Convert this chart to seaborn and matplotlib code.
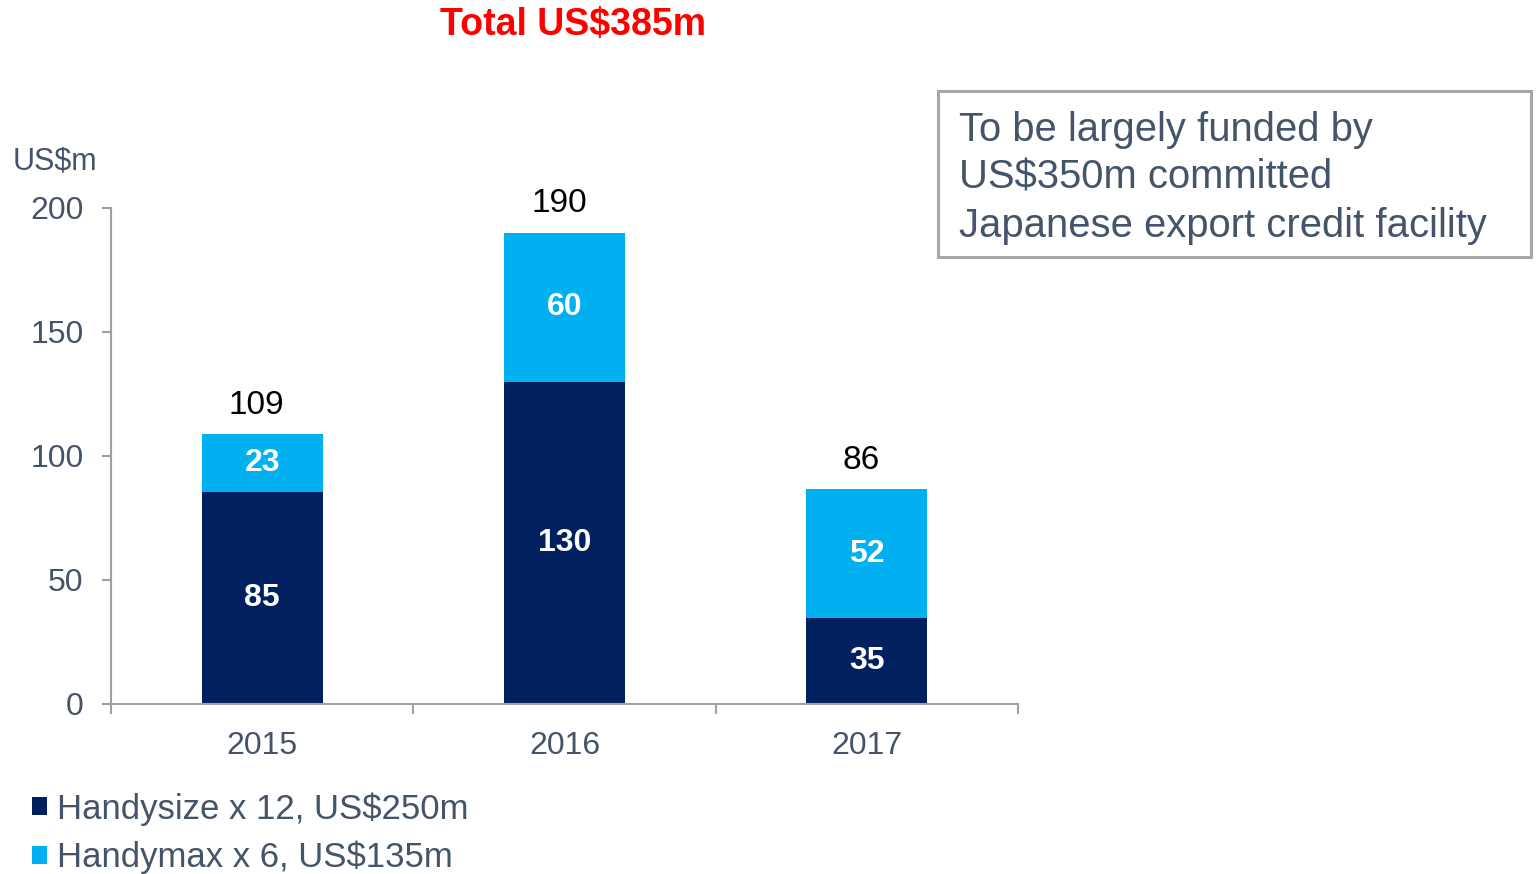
import matplotlib
matplotlib.use("Agg")
import matplotlib.pyplot as plt
from matplotlib.patches import Patch, Rectangle
import seaborn as sns

# ── data ──────────────────────────────────────────────────────────────────────
years          = ["2015", "2016", "2017"]
handysize      = [85.3, 129.7, 34.4]   # bar heights
handymax       = [23.3, 60.1, 52.0]
handysize_lbl  = ["85", "130", "35"]
handymax_lbl   = ["23", "60", "52"]
total_lbl      = ["109", "190", "86"]
legend_labels  = ["Handysize x 12, US$250m", "Handymax x 6, US$135m"]
box_lines      = ["To be largely funded by",
                  "US$350m committed",
                  "Japanese export credit facility"]

DARK  = "#002060"
LIGHT = "#00B0F0"
GREY  = "#A0A0A0"
TEXT  = "#44546A"

sns.set_style("white")
plt.rcParams["font.family"] = ["Liberation Sans", "DejaVu Sans"]

W, H = 1537, 874
fig = plt.figure(figsize=(W / 100, H / 100), dpi=100)
ax = fig.add_axes([111 / W, 1 - 703.5 / H, (1018 - 111) / W, (703.5 - 207.7) / H])

totals = [a + b for a, b in zip(handysize, handymax)]
sns.barplot(x=years, y=totals, color=LIGHT, width=0.4, saturation=1,
            linewidth=0, ax=ax)
sns.barplot(x=years, y=handysize, color=DARK, width=0.4, saturation=1,
            linewidth=0, ax=ax)

ax.set_xlim(-0.5, 2.5)
ax.set_ylim(0, 200)
ax.set_yticks([0, 50, 100, 150, 200])
ax.set_xlabel("")
ax.set_ylabel("")
sns.despine(ax=ax)
for side in ("left", "bottom"):
    ax.spines[side].set_color(GREY)
    ax.spines[side].set_linewidth(1.5)

ax.set_xticks([-0.5, 0.5, 1.5, 2.5], minor=True)
ax.tick_params(axis="x", which="major", length=0, pad=19.5, labelsize=23, labelcolor=TEXT)
ax.tick_params(axis="x", which="minor", direction="out", length=7, width=1.5,
               color=GREY, bottom=True)
ax.tick_params(axis="y", direction="out", length=6.7, width=1.5, color=GREY,
               pad=13, labelsize=23, labelcolor=TEXT, left=True)

# segment and total labels
for i in range(len(years)):
    ax.text(i, handysize[i] / 2, handysize_lbl[i], ha="center", va="center",
            color="white", fontsize=23, fontweight="bold")
    ax.text(i, handysize[i] + handymax[i] / 2, handymax_lbl[i], ha="center",
            va="center", color="white", fontsize=23, fontweight="bold")
    ax.annotate(total_lbl[i], (i, totals[i]), xytext=(-4, 21),
                textcoords="offset points", ha="center", va="center",
                color="black", fontsize=24)

# unit label and title
fig.text(13 / W, 1 - 162 / H, "US$m", ha="left", va="center", fontsize=22, color=TEXT)
fig.text(573 / W, 1 - 25 / H, "Total US$385m", ha="center", va="center",
         fontsize=27, fontweight="bold", color="#FF0000")

# funding note box
fig.patches.append(Rectangle((938 / W, 1 - 257 / H), (1531 - 938) / W, (257 - 91) / H,
                             transform=fig.transFigure, fill=False,
                             edgecolor="#A6A6A6", linewidth=2.2))
for k, line in enumerate(box_lines):
    fig.text(959 / W, 1 - (141 + 47.8 * k) / H, line, ha="left", va="baseline",
             fontsize=28.8, color=TEXT)

# legend
handles = [Patch(facecolor=DARK, edgecolor="none"),
           Patch(facecolor=LIGHT, edgecolor="none")]
fig.legend(handles, legend_labels, loc="upper left",
           bbox_to_anchor=(32 / W, 1 - 792 / H), frameon=False,
           fontsize=25, labelcolor=TEXT, handlelength=0.43, handleheight=0.43,
           handletextpad=0.3, labelspacing=0.44, borderpad=0, borderaxespad=0)

fig.savefig("out.png", dpi=100)
